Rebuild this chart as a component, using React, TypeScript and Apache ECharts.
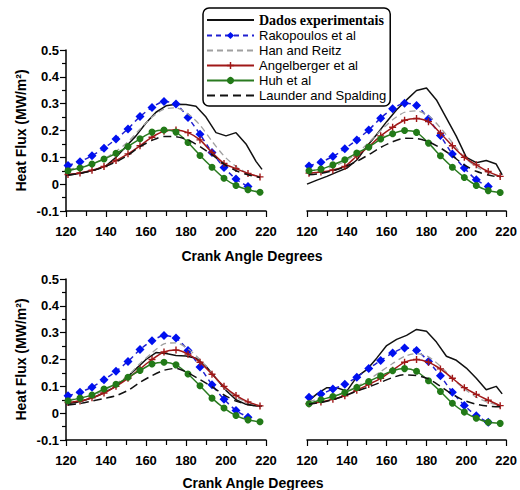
import React, { useEffect, useRef } from "react";
import * as echarts from "echarts";

// x positions
const EXP_X = [120, 125, 130, 135, 140, 145, 150, 155, 160, 165, 170, 175, 180, 185, 190, 195, 200, 205, 210, 215, 218];
const MARK_X = [121, 127, 133, 139, 145, 151, 157, 163, 169, 175, 181, 187, 193, 199, 205, 211, 217];
const RAK_X = [121, 127, 133, 139, 145, 151, 157, 163, 169, 175, 181, 187, 193, 199, 205, 211];

const SERIES_NAMES = ["Dados experimentais", "Rakopoulos et al", "Han and Reitz", "Angelberger et al", "Huh et al", "Launder and Spalding"];
const X_TICKS = [120, 140, 160, 180, 200, 220];
const Y_TICKS = [-0.1, 0, 0.1, 0.2, 0.3, 0.4, 0.5];
const X_TITLE = "Crank Angle Degrees";
const Y_TITLE = "Heat Flux (MW/m²)";

// Top-left panel
const TL_EXP = [0.032, 0.038, 0.045, 0.055, 0.068, 0.1, 0.14, 0.18, 0.228, 0.268, 0.292, 0.298, 0.297, 0.29, 0.25, 0.192, 0.18, 0.192, 0.15, 0.085, 0.055];
const TL_RAK = [0.070, 0.084, 0.106, 0.134, 0.168, 0.206, 0.252, 0.286, 0.308, 0.299, 0.248, 0.186, 0.118, 0.062, 0.019, -0.009];
const TL_HAN = [0.055, 0.064, 0.076, 0.095, 0.122, 0.158, 0.205, 0.25, 0.28, 0.284, 0.262, 0.22, 0.16, 0.105, 0.066, 0.04, 0.027];
const TL_ANG = [0.036, 0.042, 0.052, 0.066, 0.088, 0.113, 0.143, 0.175, 0.197, 0.202, 0.192, 0.165, 0.118, 0.077, 0.058, 0.04, 0.027];
const TL_HUH = [0.05, 0.06, 0.075, 0.094, 0.115, 0.14, 0.169, 0.194, 0.202, 0.194, 0.155, 0.107, 0.063, 0.022, -0.005, -0.021, -0.03];
const TL_LAU = [0.034, 0.04, 0.05, 0.064, 0.083, 0.108, 0.14, 0.163, 0.178, 0.177, 0.165, 0.14, 0.11, 0.075, 0.05, 0.035, 0.025];

// Top-right panel
const TR_EXP = [0.0, 0.015, 0.029, 0.045, 0.06, 0.09, 0.14, 0.185, 0.233, 0.277, 0.314, 0.349, 0.358, 0.314, 0.246, 0.178, 0.1, 0.08, 0.088, 0.075, 0.035];
const TR_RAK = [0.068, 0.082, 0.103, 0.132, 0.165, 0.202, 0.246, 0.281, 0.302, 0.293, 0.243, 0.181, 0.112, 0.06, 0.016, -0.009];
const TR_HAN = [0.05, 0.055, 0.065, 0.085, 0.115, 0.155, 0.2, 0.24, 0.268, 0.273, 0.255, 0.21, 0.155, 0.1, 0.065, 0.042, 0.028];
const TR_ANG = [0.041, 0.045, 0.053, 0.066, 0.105, 0.14, 0.18, 0.212, 0.238, 0.245, 0.233, 0.19, 0.143, 0.1, 0.072, 0.047, 0.029];
const TR_HUH = [0.05, 0.056, 0.072, 0.091, 0.116, 0.138, 0.168, 0.188, 0.2, 0.193, 0.153, 0.106, 0.063, 0.025, -0.005, -0.024, -0.031];
const TR_LAU = [0.035, 0.04, 0.05, 0.065, 0.085, 0.11, 0.137, 0.158, 0.171, 0.17, 0.158, 0.135, 0.105, 0.072, 0.048, 0.034, 0.025];

// Bottom-left panel
const BL_EXP = [0.035, 0.04, 0.05, 0.062, 0.08, 0.1, 0.13, 0.165, 0.2, 0.226, 0.222, 0.215, 0.213, 0.205, 0.175, 0.13, 0.085, 0.05, 0.033, 0.027, 0.027];
const BL_RAK = [0.065, 0.078, 0.097, 0.125, 0.156, 0.193, 0.237, 0.27, 0.289, 0.28, 0.234, 0.172, 0.106, 0.052, 0.01, -0.015];
const BL_HAN = [0.05, 0.055, 0.065, 0.085, 0.11, 0.14, 0.185, 0.225, 0.258, 0.262, 0.24, 0.2, 0.148, 0.095, 0.06, 0.04, 0.027];
const BL_ANG = [0.04, 0.045, 0.057, 0.075, 0.1, 0.13, 0.165, 0.2, 0.228, 0.235, 0.22, 0.19, 0.145, 0.1, 0.066, 0.042, 0.027];
const BL_HUH = [0.046, 0.056, 0.068, 0.09, 0.108, 0.134, 0.159, 0.183, 0.19, 0.18, 0.146, 0.102, 0.056, 0.019, -0.009, -0.025, -0.032];
const BL_LAU = [0.03, 0.036, 0.045, 0.055, 0.065, 0.085, 0.115, 0.14, 0.16, 0.167, 0.15, 0.125, 0.098, 0.068, 0.045, 0.032, 0.025];

// Bottom-right panel
const BR_EXP = [0.04, 0.072, 0.095, 0.095, 0.082, 0.135, 0.162, 0.205, 0.252, 0.275, 0.29, 0.312, 0.305, 0.265, 0.212, 0.197, 0.168, 0.13, 0.087, 0.1, 0.072];
const BR_RAK = [0.059, 0.071, 0.09, 0.108, 0.134, 0.166, 0.196, 0.224, 0.243, 0.234, 0.193, 0.139, 0.078, 0.029, -0.01, -0.034];
const BR_HAN = [0.045, 0.052, 0.062, 0.078, 0.1, 0.125, 0.155, 0.185, 0.212, 0.222, 0.21, 0.175, 0.13, 0.09, 0.06, 0.04, 0.028];
const BR_ANG = [0.035, 0.042, 0.052, 0.065, 0.085, 0.107, 0.13, 0.16, 0.19, 0.2, 0.19, 0.165, 0.13, 0.095, 0.07, 0.048, 0.028];
const BR_HUH = [0.035, 0.05, 0.062, 0.077, 0.096, 0.118, 0.139, 0.158, 0.166, 0.156, 0.121, 0.081, 0.037, 0.004, -0.019, -0.034, -0.038];
const BR_LAU = [0.033, 0.04, 0.05, 0.065, 0.082, 0.098, 0.115, 0.133, 0.143, 0.14, 0.128, 0.1, 0.07, 0.047, 0.033, 0.026, 0.024];

const PANELS = [
  [TL_EXP, TL_RAK, TL_HAN, TL_ANG, TL_HUH, TL_LAU],
  [TR_EXP, TR_RAK, TR_HAN, TR_ANG, TR_HUH, TR_LAU],
  [BL_EXP, BL_RAK, BL_HAN, BL_ANG, BL_HUH, BL_LAU],
  [BR_EXP, BR_RAK, BR_HAN, BR_ANG, BR_HUH, BR_LAU],
];
const SERIES_X = [EXP_X, RAK_X, MARK_X, MARK_X, MARK_X, MARK_X];

const SANS = "'Liberation Sans', Arial, sans-serif";
const SERIF = "'Liberation Serif', 'Times New Roman', serif";

const PLUS = "path://M4,0L6,0L6,4L10,4L10,6L6,6L6,10L4,10L4,6L0,6L0,4L4,4Z";

const STYLES: any[] = [
  { color: "#111", lineStyle: { color: "#111", width: 1.5, type: "solid" }, symbol: "none", smooth: false },
  { color: "#0010f0", lineStyle: { color: "#2020d0", width: 1.5, type: [5, 4] }, symbol: "diamond", symbolSize: 9, smooth: 0.25 },
  { color: "#a0a0a0", lineStyle: { color: "#a0a0a0", width: 1.3, type: [6, 4] }, symbol: "none", smooth: 0.25 },
  { color: "#a01818", lineStyle: { color: "#a01818", width: 1.5, type: "solid" }, symbol: PLUS, symbolSize: 7, smooth: 0.25 },
  { color: "#227a18", lineStyle: { color: "#2a7a20", width: 1.5, type: "solid" }, symbol: "circle", symbolSize: 7, smooth: 0.25 },
  { color: "#111", lineStyle: { color: "#111", width: 1.5, type: [8, 5] }, symbol: "none", smooth: 0.25 },
];

const GRIDS = [
  { left: 66, top: 50, width: 200, height: 161 },
  { left: 307, top: 50, width: 200, height: 161 },
  { left: 66, top: 279, width: 200, height: 161 },
  { left: 307, top: 279, width: 200, height: 161 },
];

export default function App() {
  const ref = useRef<HTMLDivElement>(null);
  useEffect(() => {
    document.body.style.margin = "0";
    const chart = echarts.init(ref.current!, null, { renderer: "svg" });
    const xAxis = GRIDS.map((_, i) => ({
      type: "value",
      gridIndex: i,
      min: X_TICKS[0],
      max: X_TICKS[X_TICKS.length - 1],
      interval: 20,
      axisLine: { onZero: false, lineStyle: { color: "#000", width: 1.5 } },
      axisTick: { show: true, length: 6, lineStyle: { color: "#000", width: 1.2 } },
      minorTick: { show: true, splitNumber: 2, length: 5, lineStyle: { color: "#000", width: 1.2 } },
      splitLine: { show: false },
      axisLabel: { margin: 14, color: "#000", fontFamily: SANS, fontWeight: "bold", fontSize: 13 },
    }));
    const yAxis = GRIDS.map((_, i) => {
      const left = i % 2 === 0;
      return {
        type: "value",
        gridIndex: i,
        min: Y_TICKS[0],
        max: Y_TICKS[Y_TICKS.length - 1],
        interval: 0.1,
        show: left,
        name: left ? Y_TITLE : "",
        nameLocation: "middle",
        nameGap: 38,
        nameTextStyle: { color: "#000", fontFamily: SANS, fontWeight: "bold", fontSize: 14 },
        axisLine: { show: true, lineStyle: { color: "#000", width: 1.5 } },
        axisTick: { show: true, length: 6, lineStyle: { color: "#000", width: 1.2 } },
        minorTick: { show: true, splitNumber: 2, length: 4, lineStyle: { color: "#000", width: 1.2 } },
        splitLine: { show: false },
        axisLabel: {
          margin: 7,
          color: "#000",
          fontFamily: SANS,
          fontWeight: "bold",
          fontSize: 13,
          formatter: (v: number) => String(Math.round(v * 10) / 10),
        },
      };
    });
    const series: any[] = [];
    PANELS.forEach((panel, p) => {
      panel.forEach((ys, s) => {
        const xs = SERIES_X[s];
        const st = STYLES[s];
        series.push({
          type: "line",
          name: SERIES_NAMES[s],
          xAxisIndex: p,
          yAxisIndex: p,
          data: ys.map((y, j) => [xs[j], y]),
          symbol: st.symbol,
          symbolSize: st.symbolSize,
          showSymbol: st.symbol !== "none",
          smooth: st.smooth,
          itemStyle: { color: st.color, borderWidth: 0 },
          lineStyle: st.lineStyle,
          z: 2 + s,
        });
      });
    });
    const legendData = SERIES_NAMES.map((name, s) =>
      STYLES[s].symbol === "none"
        ? { name, itemStyle: { color: "rgba(0,0,0,0)", borderColor: "rgba(0,0,0,0)", opacity: 0 } }
        : { name }
    );
    chart.setOption({
      animation: false,
      backgroundColor: "#fff",
      grid: GRIDS,
      xAxis,
      yAxis,
      series,
      legend: {
        data: legendData,
        orient: "vertical",
        left: 203,
        top: 8,
        padding: [5, 4, 4, 3],
        itemGap: 2,
        itemWidth: 47,
        itemHeight: 9,
        backgroundColor: "#fff",
        borderColor: "#000",
        borderWidth: 1.5,
        borderRadius: 6,
        selectedMode: false,
        z: 20,
        textStyle: {
          color: "#000",
          fontFamily: SANS,
          fontSize: 13,
          rich: { b: { fontFamily: SERIF, fontWeight: "bold", fontSize: 14, color: "#000" } },
        },
        formatter: (name: string) => (name === SERIES_NAMES[0] ? `{b|${name}}` : name),
      },
      graphic: [
        {
          type: "text",
          x: 252,
          y: 256,
          style: { text: X_TITLE, fontFamily: SANS, fontWeight: "bold", fontSize: 14, fill: "#000", align: "center", verticalAlign: "middle" },
        },
        {
          type: "text",
          x: 253,
          y: 483,
          style: { text: X_TITLE, fontFamily: SANS, fontWeight: "bold", fontSize: 14, fill: "#000", align: "center", verticalAlign: "middle" },
        },
      ],
    });
    return () => chart.dispose();
  }, []);
  return <div ref={ref} style={{ width: 520, height: 490 }} />;
}
